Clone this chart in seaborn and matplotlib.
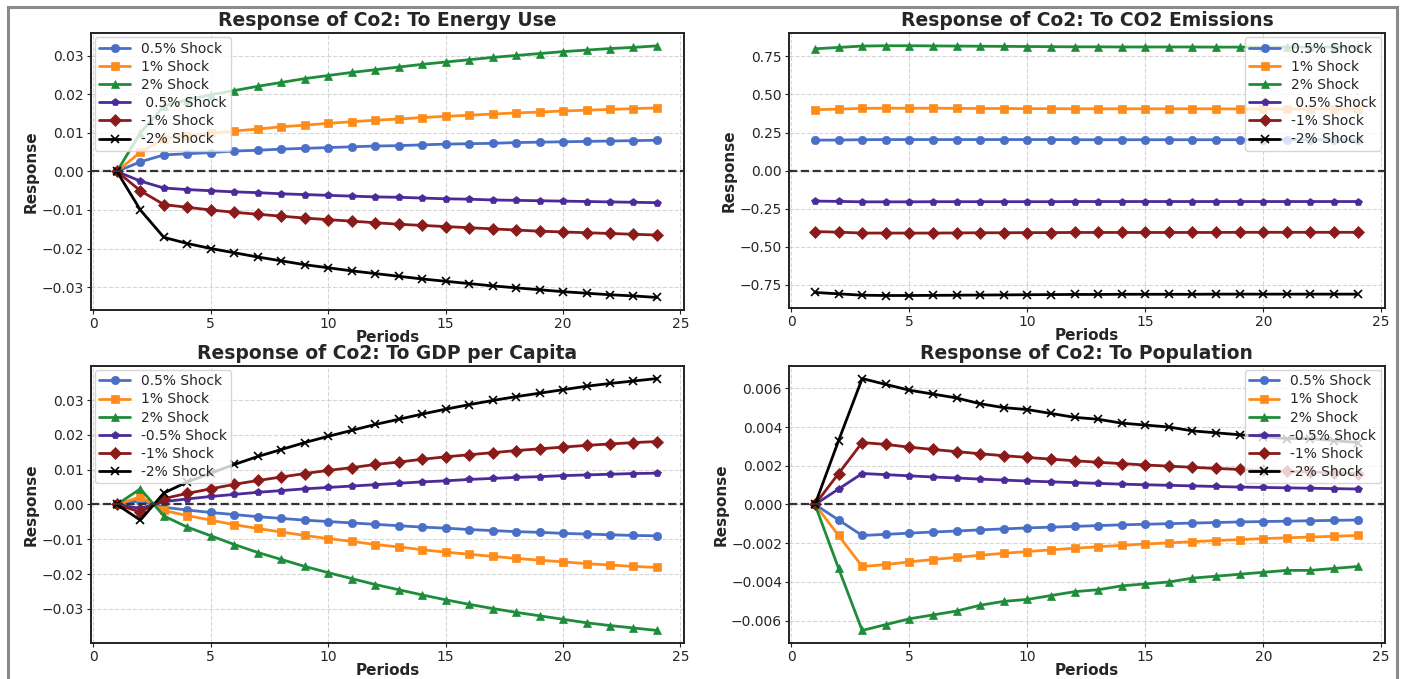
######IMPORTS#####
import warnings
warnings.filterwarnings("ignore")

import numpy as np
import pandas as pd
import matplotlib
matplotlib.use("Agg")
import matplotlib.pyplot as plt
from matplotlib.patches import Rectangle
import seaborn as sns


###### DATA ########

periods = list(range(1, 25))

# Response to Energy Use
eu_p05 = [0, 0.0025, 0.0043, 0.0046, 0.0049, 0.0053, 0.0055, 0.0058, 0.0060, 0.0062, 0.0064, 0.0066,
          0.0067, 0.0069, 0.0071, 0.0072, 0.0073, 0.0075, 0.0076, 0.0077, 0.0078, 0.0079, 0.0080, 0.0081]
eu_p1 = [0, 0.0050, 0.0085, 0.0093, 0.0099, 0.0105, 0.0110, 0.0116, 0.0120, 0.0125, 0.0129, 0.0133,
         0.0136, 0.0140, 0.0143, 0.0146, 0.0149, 0.0152, 0.0154, 0.0157, 0.0159, 0.0161, 0.0163, 0.0165]
eu_p2 = [0, 0.0100, 0.0170, 0.0186, 0.0199, 0.0210, 0.0221, 0.0231, 0.0241, 0.0249, 0.0257, 0.0264,
         0.0271, 0.0278, 0.0284, 0.0290, 0.0296, 0.0301, 0.0306, 0.0311, 0.0315, 0.0319, 0.0322, 0.0326]
eu_m05 = [0, -0.0025, -0.0043, -0.0047, -0.0050, -0.0053, -0.0055, -0.0058, -0.0060, -0.0062, -0.0064, -0.0066,
          -0.0067, -0.0069, -0.0071, -0.0072, -0.0074, -0.0075, -0.0076, -0.0077, -0.0078, -0.0079, -0.0080, -0.0081]
eu_m1 = [0, -0.0050, -0.0086, -0.0093, -0.0100, -0.0106, -0.0111, -0.0116, -0.0121, -0.0125, -0.0129, -0.0133,
         -0.0137, -0.0140, -0.0143, -0.0146, -0.0149, -0.0152, -0.0155, -0.0157, -0.0159, -0.0161, -0.0163, -0.0165]
eu_m2 = [0, -0.0100, -0.0171, -0.0187, -0.0200, -0.0211, -0.0222, -0.0232, -0.0242, -0.0250, -0.0258, -0.0265,
         -0.0272, -0.0279, -0.0285, -0.0291, -0.0297, -0.0302, -0.0307, -0.0312, -0.0316, -0.0320, -0.0323, -0.0327]

# Response to CO2 Emissions
co_p05 = [0.200, 0.201, 0.203, 0.204, 0.204, 0.204, 0.204, 0.204, 0.204, 0.204, 0.204, 0.203,
          0.203, 0.203, 0.203, 0.203, 0.203, 0.203, 0.203, 0.203, 0.203, 0.203, 0.203, 0.203]
co_p1 = [0.400, 0.404, 0.409, 0.410, 0.410, 0.410, 0.409, 0.408, 0.408, 0.407, 0.407, 0.406,
         0.406, 0.406, 0.406, 0.406, 0.406, 0.406, 0.405, 0.405, 0.405, 0.405, 0.405, 0.405]
co_p2 = [0.800, 0.809, 0.818, 0.820, 0.820, 0.819, 0.818, 0.817, 0.816, 0.815, 0.814, 0.813,
         0.813, 0.812, 0.812, 0.812, 0.812, 0.811, 0.811, 0.811, 0.811, 0.811, 0.811, 0.811]
co_m05 = [-0.200, -0.202, -0.205, -0.205, -0.205, -0.204, -0.204, -0.204, -0.204, -0.204, -0.204, -0.203,
          -0.203, -0.203, -0.203, -0.203, -0.203, -0.203, -0.203, -0.203, -0.203, -0.203, -0.203, -0.203]
co_m1 = [-0.400, -0.404, -0.410, -0.410, -0.410, -0.410, -0.409, -0.408, -0.408, -0.407, -0.407, -0.406,
         -0.406, -0.406, -0.406, -0.406, -0.406, -0.406, -0.405, -0.405, -0.405, -0.405, -0.405, -0.405]
co_m2 = [-0.800, -0.809, -0.818, -0.820, -0.820, -0.819, -0.818, -0.817, -0.816, -0.815, -0.814, -0.813,
         -0.813, -0.812, -0.812, -0.812, -0.812, -0.811, -0.811, -0.811, -0.811, -0.811, -0.811, -0.811]

# Response to GDP per Capita
gdp_p05 = [0, 0.0011, -0.0008, -0.0016, -0.0023, -0.0029, -0.0035, -0.0040, -0.0045, -0.0049, -0.0053, -0.0057,
           -0.0061, -0.0065, -0.0068, -0.0072, -0.0075, -0.0078, -0.0080, -0.0083, -0.0085, -0.0087, -0.0089, -0.0090]
gdp_p1 = [0, 0.0022, -0.0017, -0.0032, -0.0045, -0.0058, -0.0069, -0.0079, -0.0089, -0.0098, -0.0106, -0.0115,
          -0.0122, -0.0130, -0.0137, -0.0143, -0.0149, -0.0155, -0.0160, -0.0165, -0.0170, -0.0174, -0.0178, -0.0181]
gdp_p2 = [0, 0.0045, -0.0033, -0.0065, -0.0090, -0.0115, -0.0138, -0.0158, -0.0178, -0.0196, -0.0213, -0.0230,
          -0.0245, -0.0260, -0.0274, -0.0287, -0.0299, -0.0310, -0.0320, -0.0330, -0.0340, -0.0348, -0.0355, -0.0362]
gdp_m05 = [0, -0.0011, 0.0008, 0.0016, 0.0023, 0.0029, 0.0035, 0.0040, 0.0045, 0.0049, 0.0053, 0.0057,
           0.0061, 0.0065, 0.0068, 0.0072, 0.0075, 0.0078, 0.0080, 0.0083, 0.0085, 0.0087, 0.0089, 0.0090]
gdp_m1 = [0, -0.0022, 0.0017, 0.0032, 0.0045, 0.0058, 0.0069, 0.0079, 0.0089, 0.0098, 0.0106, 0.0115,
          0.0122, 0.0130, 0.0137, 0.0143, 0.0149, 0.0155, 0.0160, 0.0165, 0.0170, 0.0174, 0.0178, 0.0181]
gdp_m2 = [0, -0.0045, 0.0033, 0.0065, 0.0090, 0.0115, 0.0138, 0.0158, 0.0178, 0.0196, 0.0213, 0.0230,
          0.0245, 0.0260, 0.0274, 0.0287, 0.0299, 0.0310, 0.0320, 0.0330, 0.0340, 0.0348, 0.0355, 0.0362]

# Response to Population
pop_p05 = [0, -0.0008, -0.0016, -0.00154, -0.00148, -0.00142, -0.00137, -0.00131, -0.00126, -0.00121, -0.00117, -0.00113,
           -0.00109, -0.00105, -0.00102, -0.00099, -0.00096, -0.00093, -0.00090, -0.00088, -0.00086, -0.00084, -0.00082, -0.00080]
pop_p1 = [0, -0.0016, -0.0032, -0.00310, -0.00296, -0.00284, -0.00273, -0.00262, -0.00252, -0.00243, -0.00234, -0.00226,
          -0.00218, -0.00211, -0.00204, -0.00198, -0.00192, -0.00186, -0.00181, -0.00176, -0.00172, -0.00168, -0.00164, -0.00160]
pop_p2 = [0, -0.0033, -0.0065, -0.0062, -0.0059, -0.0057, -0.0055, -0.0052, -0.0050, -0.0049, -0.0047, -0.0045,
          -0.0044, -0.0042, -0.0041, -0.0040, -0.0038, -0.0037, -0.0036, -0.0035, -0.0034, -0.0034, -0.0033, -0.0032]
pop_m05 = [0, 0.0008, 0.0016, 0.00154, 0.00148, 0.00142, 0.00137, 0.00131, 0.00126, 0.00121, 0.00117, 0.00113,
           0.00109, 0.00105, 0.00102, 0.00099, 0.00096, 0.00093, 0.00090, 0.00088, 0.00086, 0.00084, 0.00082, 0.00080]
pop_m1 = [0, 0.0016, 0.0032, 0.00310, 0.00296, 0.00284, 0.00273, 0.00262, 0.00252, 0.00243, 0.00234, 0.00226,
          0.00218, 0.00211, 0.00204, 0.00198, 0.00192, 0.00186, 0.00181, 0.00176, 0.00172, 0.00168, 0.00164, 0.00160]
pop_m2 = [0, 0.0033, 0.0065, 0.0062, 0.0059, 0.0057, 0.0055, 0.0052, 0.0050, 0.0049, 0.0047, 0.0045,
          0.0044, 0.0042, 0.0041, 0.0040, 0.0038, 0.0037, 0.0036, 0.0035, 0.0034, 0.0034, 0.0033, 0.0032]

titles = ["Response of Co2: To Energy Use", "Response of Co2: To CO2 Emissions",
          "Response of Co2: To GDP per Capita", "Response of Co2: To Population"]

labels_top = ["0.5% Shock", "1% Shock", "2% Shock", " 0.5% Shock", "-1% Shock", "-2% Shock"]
labels_bottom = ["0.5% Shock", "1% Shock", "2% Shock", "-0.5% Shock", "-1% Shock", "-2% Shock"]

panels = [
    ([eu_p05, eu_p1, eu_p2, eu_m05, eu_m1, eu_m2], labels_top, "upper left"),
    ([co_p05, co_p1, co_p2, co_m05, co_m1, co_m2], labels_top, "upper right"),
    ([gdp_p05, gdp_p1, gdp_p2, gdp_m05, gdp_m1, gdp_m2], labels_bottom, "upper left"),
    ([pop_p05, pop_p1, pop_p2, pop_m05, pop_m1, pop_m2], labels_bottom, "upper right"),
]

colors = ["#4a6fc7", "#ff8c1a", "#1e8c3a", "#4b2a99", "#8b1a1a", "#000000"]
markers = ["o", "s", "^", "p", "D", "x"]


###### PLOT ########

sns.set_style("whitegrid", {"grid.linestyle": "--", "grid.color": "#cccccc",
                            "axes.edgecolor": "#222222"})
plt.rcParams['font.family'] = ['DejaVu Sans']

fig = plt.figure(figsize=(14.03, 6.79), dpi=100)

# axes boxes [left, bottom, width, height] in figure fractions
boxes = [
    [0.0649, 0.5434, 0.4226, 0.4076],
    [0.5624, 0.5464, 0.4246, 0.4046],
    [0.0649, 0.0530, 0.4226, 0.4080],
    [0.5624, 0.0530, 0.4246, 0.4080],
]

for i, (series, labels, loc) in enumerate(panels):
    ax = fig.add_axes(boxes[i])
    for vals, lab, col, mk in zip(series, labels, colors, markers):
        sns.lineplot(x=periods, y=vals, ax=ax, color=col, marker=mk, label=lab,
                     linewidth=2, markersize=6 if mk not in ("p", "x") else 5.5,
                     markeredgewidth=1.2 if mk == "x" else 0.5,
                     markeredgecolor=col)
    ax.axhline(0, color="#333333", linestyle="--", linewidth=1.6)
    ax.set_xlim(-0.1, 25.15)
    ax.set_xticks([0, 5, 10, 15, 20, 25])
    ax.set_title(titles[i], fontsize=13.5, fontweight="bold", pad=5)
    ax.set_xlabel("Periods", fontsize=11, fontweight="bold", labelpad=-1)
    ax.set_ylabel("Response", fontsize=11, fontweight="bold", labelpad=2)
    ax.tick_params(axis="both", labelsize=10, length=3, pad=2, color="#222222", left=True, bottom=True)
    ax.grid(True, linestyle="--", linewidth=0.8, alpha=0.8)
    for sp in ax.spines.values():
        sp.set_linewidth(1.4)
    ax.legend(loc=loc, fontsize=10, labelspacing=0.3, borderpad=0.3,
              handlelength=2.2, framealpha=0.8, borderaxespad=0.3)

# outer frame around the whole picture
fig.patches.append(Rectangle((8 / 1403, -0.05), 1389 / 1403, 1.04, transform=fig.transFigure,
                             fill=False, edgecolor="#8a8a8a", linewidth=2.2))

plt.savefig("out.png", dpi=100)
